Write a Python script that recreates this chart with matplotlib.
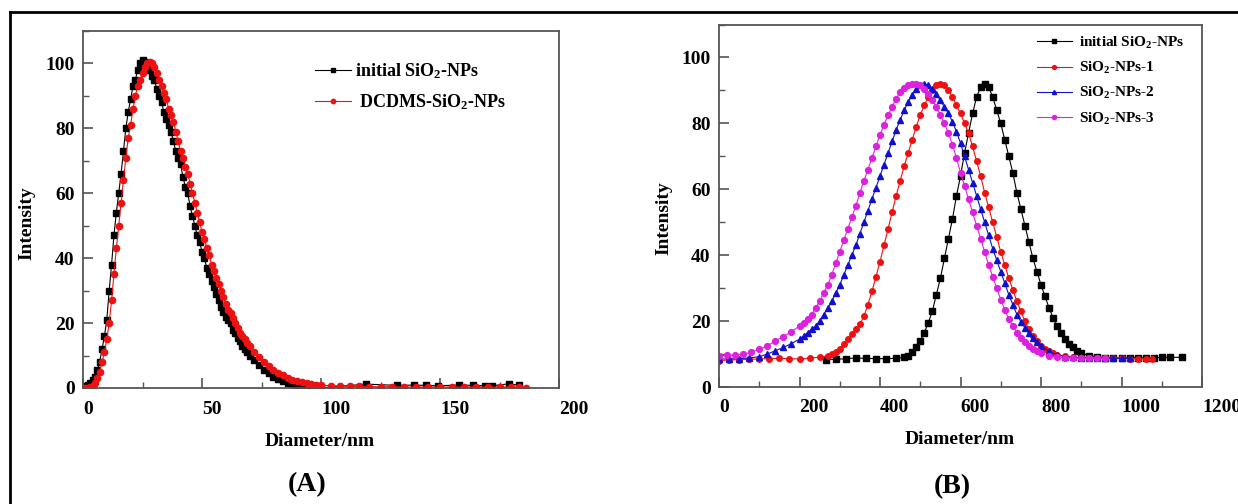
import matplotlib
matplotlib.use('Agg')
import matplotlib.pyplot as plt
from matplotlib.lines import Line2D
from matplotlib.ticker import MultipleLocator

plt.rcParams['font.family'] = ['Liberation Serif', 'DejaVu Serif']
plt.rcParams['font.weight'] = 'bold'
plt.rcParams['mathtext.fontset'] = 'custom'
plt.rcParams['mathtext.rm'] = 'Liberation Serif:bold'
plt.rcParams['mathtext.it'] = 'Liberation Serif:bold:italic'
plt.rcParams['mathtext.bf'] = 'Liberation Serif:bold'

### (A) data ###
a_init_x = [0, 1, 2, 3, 4, 5, 6, 7, 8, 9, 10, 11, 12, 13, 14, 15, 16, 17, 18, 19,
            20, 21, 22, 23, 24, 25, 26, 27, 28, 29, 30, 31, 32, 33, 34, 35, 36, 37,
            38, 39, 40, 41, 42, 43, 44, 45, 46, 47, 48, 49, 50, 51, 52, 53, 54, 55,
            56, 57, 58, 59, 60, 61, 62, 63, 64, 65, 66, 67, 68, 69, 70, 72, 74, 76,
            78, 80, 82, 84, 86, 88, 90, 92, 94, 96, 98, 100,
            119, 132, 139, 144, 149, 158, 164, 169, 172, 179, 183]
a_init_y = [0.3, 0.5, 0.8, 1.5, 2.5, 3.5, 5.5, 8, 12, 16, 21, 30, 38, 47, 54, 60, 66, 73, 80, 85,
            89, 93, 95, 98, 100, 101, 100.5, 99, 98, 96, 95, 92, 90, 88, 85, 83, 81, 79,
            76, 73, 71, 69, 65, 62, 60, 56, 53, 50, 47, 45, 42, 40, 37, 35, 33, 31,
            29, 27, 25, 23.5, 22, 21, 20, 18, 17, 15.5, 14.5, 13, 12, 11, 10, 8.5, 7, 5.5,
            4.5, 3.5, 2.8, 2.2, 1.6, 1.1, 0.8, 0.5, 0.3, 0.2, 0.1, 0.05,
            1.2, 0.8, 0.9, 0.8, 0.7, 0.9, 0.8, 0.7, 0.7, 1.3, 0.9]

a_dcdms_x = [0, 1, 2, 3, 4, 5, 6, 7, 8, 9, 10, 11, 12, 13, 14, 15, 16, 17, 18, 19,
             20, 21, 22, 23, 24, 25, 26, 27, 28, 29, 30, 31, 32, 33, 34, 35, 36, 37,
             38, 39, 40, 41, 42, 43, 44, 45, 46, 47, 48, 49, 50, 51, 52, 53, 54, 55,
             56, 57, 58, 59, 60, 61, 62, 63, 64, 65, 66, 67, 68, 69, 70, 72, 74, 76,
             78, 80, 82, 84, 86, 88, 90, 92, 94, 96, 98, 100, 104, 108, 112, 116,
             120, 125, 130, 135, 140, 145, 150, 155, 160, 165, 170, 175, 180, 183, 186]
a_dcdms_y = [0, 0, 0, 0.3, 0.5, 1.5, 3, 5, 8, 11, 15, 20, 27, 35, 43, 50, 57, 64, 71, 77,
             81, 86, 90, 93, 95, 97, 99, 100, 100.5, 100, 99, 97, 95, 93, 91, 89, 86, 84,
             82, 79, 76, 73, 71, 68, 66, 63, 60, 57, 54, 51, 48, 46, 43, 41, 38, 36,
             34, 32, 30, 28, 26, 24, 23, 21.5, 20, 18.5, 17, 16, 15, 14, 13, 11, 9.5, 8,
             6.8, 5.7, 4.7, 3.9, 3.2, 2.6, 2.1, 1.7, 1.4, 1.2, 1.0, 0.9, 0.7, 0.6, 0.5, 0.5,
             0.4, 0.4, 0.4, 0.3, 0.3, 0.3, 0.3, 0.3, 0.3, 0.3, 0.3, 0.3, 0.3, 0.2, 0]

### (B) data ###
b_init_x = [265, 290, 315, 340, 365, 390, 415, 440, 460, 470, 480, 490, 500, 510, 520,
            530, 540, 550, 560, 570, 580, 590, 600, 610, 620, 630, 640, 650, 660, 670,
            680, 690, 700, 710, 720, 730, 740, 750, 760, 770, 780, 790, 800, 810, 820,
            830, 840, 850, 860, 870, 880, 890, 900, 920, 940, 960, 980, 1000, 1020,
            1040, 1060, 1080, 1100, 1120, 1150]
b_init_y = [8.3, 8.4, 8.6, 8.8, 8.7, 8.6, 8.6, 8.7, 9.0, 9.5, 10.5, 12, 14, 16.5, 19.5,
            23, 28, 33, 39, 45, 51, 58, 64, 71, 77, 83, 88, 91, 92, 91,
            88, 84, 80, 75, 70, 65, 59, 54, 49, 44, 39, 35, 31, 27.5, 24,
            21, 18.5, 16.5, 14.5, 13, 12, 11, 10.3, 9.5, 9.1, 8.9, 8.8, 8.8, 8.8,
            8.9, 8.8, 8.9, 9.0, 9.0, 9.0]

b_np1_x = [0, 25, 50, 75, 100, 125, 150, 175, 200, 225, 250, 270, 280, 290, 300, 310,
           320, 330, 340, 350, 360, 370, 380, 390, 400, 410, 420, 430, 440, 450, 460,
           470, 480, 490, 500, 510, 520, 530, 540, 550, 560, 570, 580, 590, 600, 610,
           620, 630, 640, 650, 660, 670, 680, 690, 700, 710, 720, 730, 740, 750, 760,
           770, 780, 790, 800, 810, 820, 830, 840, 860, 880, 900, 920, 940, 960, 980,
           1000, 1020, 1040, 1060, 1077]
b_np1_y = [8.0, 8.2, 8.3, 8.4, 8.5, 8.6, 8.7, 8.6, 8.5, 8.8, 9.0, 9.5, 10, 10.5, 11.5, 13,
           14.5, 16, 17.5, 19, 21.5, 25, 29, 33.5, 38, 43, 48, 53, 58, 62.5, 67,
           71, 75, 79, 82.5, 85.5, 88, 90, 91.5, 92, 91.5, 90, 88, 85.5, 83, 80,
           77, 73, 68.5, 64, 59, 54.5, 50, 45.5, 41, 37, 33, 29.5, 26, 23, 20,
           17.5, 15.5, 14, 12.5, 11.5, 10.8, 10.2, 9.8, 9.3, 9.0, 8.9, 8.8, 8.8, 8.7, 8.7,
           8.7, 8.6, 8.6, 8.5, 8.5]

b_np2_x = [0, 25, 50, 75, 100, 120, 140, 160, 180, 200, 210, 220, 230, 240, 250, 260,
           270, 280, 290, 300, 310, 320, 330, 340, 350, 360, 370, 380, 390, 400, 410,
           420, 430, 440, 450, 460, 470, 480, 490, 500, 510, 520, 530, 540, 550, 560,
           570, 580, 590, 600, 610, 620, 630, 640, 650, 660, 670, 680, 690, 700, 710,
           720, 730, 740, 750, 760, 770, 780, 790, 800, 820, 840, 860, 880, 900, 920,
           940, 960, 980, 1000, 1020]
b_np2_y = [8.5, 8.5, 8.6, 8.8, 9.2, 10, 11, 12, 13.2, 14.5, 15.5, 16.5, 17.5, 18.5, 20, 22,
           24, 26, 28.5, 31, 34, 37, 40, 43, 46.5, 50, 53.5, 57, 60.5, 64, 67.5,
           71, 74.5, 78, 81, 84, 86.5, 88.5, 90.5, 91.5, 92, 91.5, 90.5, 89, 87, 85,
           83, 80.5, 77.5, 74, 70, 66, 62, 58, 54, 50, 46, 42, 38.5, 35, 31.5,
           28, 25, 22, 19.8, 18, 16.3, 15, 13.7, 12.5, 10.8, 9.8, 9.2, 9.0, 8.9, 8.9,
           8.8, 8.8, 8.7, 8.7, 8.7]

b_np3_x = [0, 20, 40, 60, 80, 100, 120, 140, 160, 180, 200, 210, 220, 230, 240, 250,
           260, 270, 280, 290, 300, 310, 320, 330, 340, 350, 360, 370, 380, 390, 400,
           410, 420, 430, 440, 450, 460, 470, 480, 490, 500, 510, 520, 530, 540, 550,
           560, 570, 580, 590, 600, 610, 620, 630, 640, 650, 660, 670, 680, 690, 700,
           710, 720, 730, 740, 750, 760, 770, 780, 790, 800, 820, 840, 860, 880, 900,
           920, 940, 960]
b_np3_y = [9.5, 9.6, 9.8, 10, 10.5, 11.5, 12.5, 14, 15.3, 16.8, 18.5, 19.5, 20.5, 22, 24, 26,
           28.5, 31, 34, 37.5, 41, 44.5, 48, 51.5, 55, 59, 62.5, 66, 69.5, 73, 76.5,
           79.5, 82.5, 85, 87.5, 89.5, 90.8, 91.6, 92, 92, 91.5, 90.5, 89, 87, 85, 82.5,
           80, 77, 73.5, 69.5, 65, 61, 57, 53, 49, 45, 41, 37, 33.5, 30, 26.5,
           23.5, 20.5, 18.5, 16.5, 15, 13.7, 12.5, 11.5, 10.8, 10.2, 9.5, 9.0, 8.8, 8.7, 8.7,
           8.8, 8.7, 8.7]

W, H = 1238, 504
fig = plt.figure(figsize=(W / 100, H / 100), dpi=100)

def px_axes(left, top, right, bottom):
    return fig.add_axes([left / W, 1 - bottom / H, (right - left) / W, (bottom - top) / H])

ax1 = px_axes(83, 31, 559, 388)
ax2 = px_axes(719, 24.5, 1202, 387)

# outer frame (left + top edges only visible)
fig.add_artist(Line2D([10 / W, 10 / W], [0, 1 - 12 / H], transform=fig.transFigure, color='black', lw=2))
fig.add_artist(Line2D([10 / W, 1], [1 - 12 / H, 1 - 12 / H], transform=fig.transFigure, color='black', lw=2))

spine_c = '#555555'

def style_axes(ax):
    for s in ax.spines.values():
        s.set_color(spine_c)
        s.set_linewidth(1.3)
    ax.tick_params(which='both', direction='in', color=spine_c, labelsize=14, top=False, right=False)
    ax.tick_params(which='major', length=7, width=1.2)
    ax.tick_params(which='minor', length=4, width=1.0)
    ax.tick_params(axis='x', pad=9)
    ax.tick_params(axis='y', pad=6)
    ax.set_ylabel('Intensity', fontsize=14, fontweight='bold')
    ax.set_xlabel('Diameter/nm', fontsize=14, fontweight='bold')
    for lbl in ax.get_xticklabels():
        lbl.set_horizontalalignment('left')

# ploting (A)
ax1.plot(a_init_x, a_init_y, color='black', marker='s', ms=4.5, lw=0.8, label='initial SiO$_2$-NPs')
ax1.plot(a_dcdms_x, a_dcdms_y, color='#ee1111', marker='o', ms=4.5, lw=0.8, label=' DCDMS-SiO$_2$-NPs')
ax1.set_xlim(0, 200)
ax1.set_ylim(0, 110)
ax1.set_xticks([0, 50, 100, 150, 200])
ax1.set_yticks([0, 20, 40, 60, 80, 100])
ax1.xaxis.set_minor_locator(MultipleLocator(25))
ax1.yaxis.set_minor_locator(MultipleLocator(10))
style_axes(ax1)
ax1.xaxis.set_label_coords(0.498, -0.126)
ax1.yaxis.set_label_coords(-0.101, 0.462)
ax1.legend(loc='upper left', bbox_to_anchor=(0.487, 0.915), frameon=False, borderpad=0,
           borderaxespad=0, fontsize=13, handlelength=2.0, handletextpad=0.2,
           labelspacing=0.6, markerscale=0.7)

# ploting (B)
ax2.plot(b_init_x, b_init_y, color='black', marker='s', ms=3.8, lw=0.8, label='initial SiO$_2$-NPs')
ax2.plot(b_np1_x, b_np1_y, color='#ee1111', marker='o', ms=4, lw=0.8, label='SiO$_2$-NPs-1')
ax2.plot(b_np2_x, b_np2_y, color='#1010cc', marker='^', ms=4.2, lw=0.8, label='SiO$_2$-NPs-2')
ax2.plot(b_np3_x, b_np3_y, color='#dd22dd', marker='o', ms=4.2, lw=0.8, label='SiO$_2$-NPs-3')
ax2.set_xlim(0, 1200)
ax2.set_ylim(0, 110)
ax2.set_xticks([0, 200, 400, 600, 800, 1000, 1200])
ax2.set_yticks([0, 20, 40, 60, 80, 100])
ax2.xaxis.set_minor_locator(MultipleLocator(100))
ax2.yaxis.set_minor_locator(MultipleLocator(10))
style_axes(ax2)
ax2.xaxis.set_label_coords(0.499, -0.121)
ax2.yaxis.set_label_coords(-0.097, 0.466)
ax2.legend(loc='upper left', bbox_to_anchor=(0.658, 0.972), frameon=False, borderpad=0,
           borderaxespad=0, fontsize=11, handlelength=2.3, handletextpad=0.45,
           labelspacing=0.6, markerscale=0.7)

# panel letters
fig.text(307 / W, 1 - 485 / H, '(A)', fontsize=20, fontweight='bold', ha='center', va='center')
fig.text(952 / W, 1 - 487 / H, '(B)', fontsize=20, fontweight='bold', ha='center', va='center')

fig.savefig('out.png', dpi=100)
